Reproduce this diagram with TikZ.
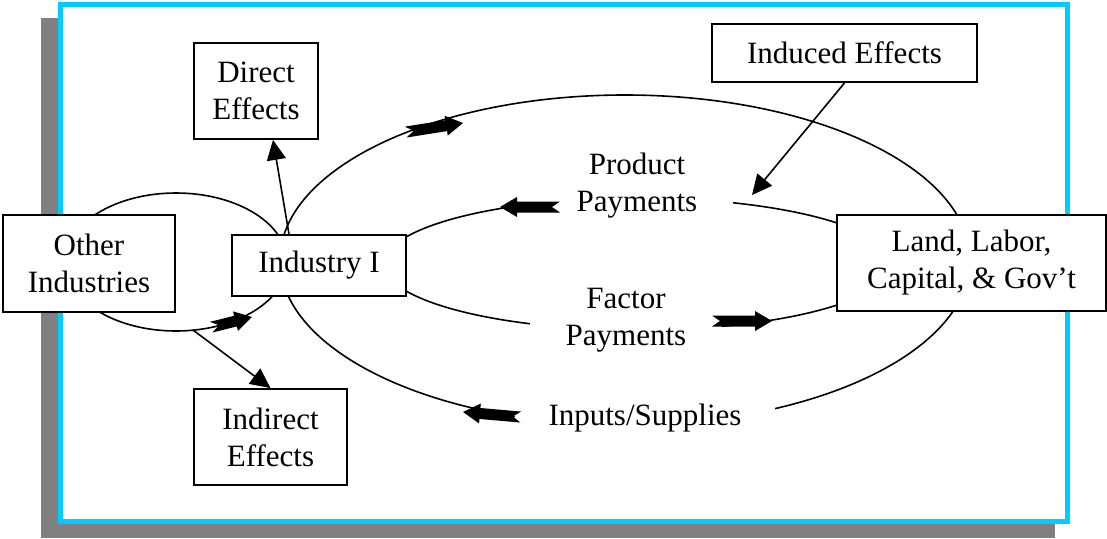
\documentclass[tikz,border=0pt]{standalone}
\usepackage{fontspec}
\setmainfont{Liberation Serif}
\usetikzlibrary{arrows.meta,calc}
\definecolor{framecyan}{RGB}{0,204,255}
\definecolor{shadowgray}{RGB}{128,128,128}
\begin{document}
\begin{tikzpicture}[x=1pt,y=-1pt,
  box/.style={draw,line width=1.8pt,fill=white,inner sep=0pt,align=center,
    font=\fontsize{31}{37}\selectfont},
  flowtext/.style={fill=white,inner sep=0pt,align=center,
    font=\fontsize{31}{37}\selectfont},
  flow/.style={line width=1.6pt},
  pointer/.style={line width=1.6pt,-{Triangle[length=20pt,width=19pt]}},
  pics/blockarrow/.style={code={
    \fill (0,0) -- (-17,-10) -- (-17,-5.5) -- (-#1,-5.5) -- (-#1+8,0)
      -- (-#1,5.5) -- (-17,5.5) -- (-17,10) -- cycle;}}
]
\useasboundingbox (0,0) rectangle (1107,538);

% panel with drop shadow
\fill[shadowgray] (41,18) rectangle (1055,538);
\draw[framecyan,line width=5pt,fill=white] (60,4.5) rectangle (1067.5,521.5);

% circular flows
\draw[flow] (176,262) ellipse [x radius=111pt, y radius=69pt];
\draw[flow] (625,260) ellipse [x radius=345pt, y radius=165pt];
\draw[flow] (638,264) ellipse [x radius=254pt, y radius=66pt];

% flow labels
\node[flowtext,minimum width=192pt] (prod) at (637,186) {Product\\Payments};
\node[flowtext,minimum width=192pt] (fact) at (626,320) {Factor\\Payments};
\node[flowtext,minimum width=260pt,minimum height=40pt] (inp) at (645,418) {Inputs/Supplies};

% boxes
\node[box,minimum width=172pt,minimum height=97pt] (other) at (89,263.5) {Other\\Industries};
\node[box,minimum width=174pt,minimum height=61pt] (ind) at (319,265.5) {Industry I};
\node[box,minimum width=269pt,minimum height=96pt] (land) at (971.5,263) {Land, Labor,\\Capital, \& Gov’t};
\node[box,minimum width=124pt,minimum height=96pt] (direct) at (256,91) {Direct\\Effects};
\node[box,minimum width=153pt,minimum height=96pt] (indirect) at (270.5,437) {Indirect\\Effects};
\node[box,minimum width=265pt,minimum height=58pt] (induced) at (844.5,53) {Induced Effects};

% effect pointers
\coordinate (inducedtip) at (752,195);
\coordinate (spill) at (193,330);
\draw[pointer] (induced.south) -- (inducedtip);
\draw[pointer] ([xshift=-30pt]ind.north) -- ([xshift=17pt]direct.south);
\draw[pointer] (spill) -- (indirect.north);

% direction markers on the flows
\pic[rotate=9] at (463,123) {blockarrow=58};
\pic[rotate=180] at (500,207) {blockarrow=60};
\pic at (772,321) {blockarrow=60};
\pic[rotate=175] at (463,412) {blockarrow=58};
\pic[rotate=14] at (252,317) {blockarrow=42};
\end{tikzpicture}
\end{document}
